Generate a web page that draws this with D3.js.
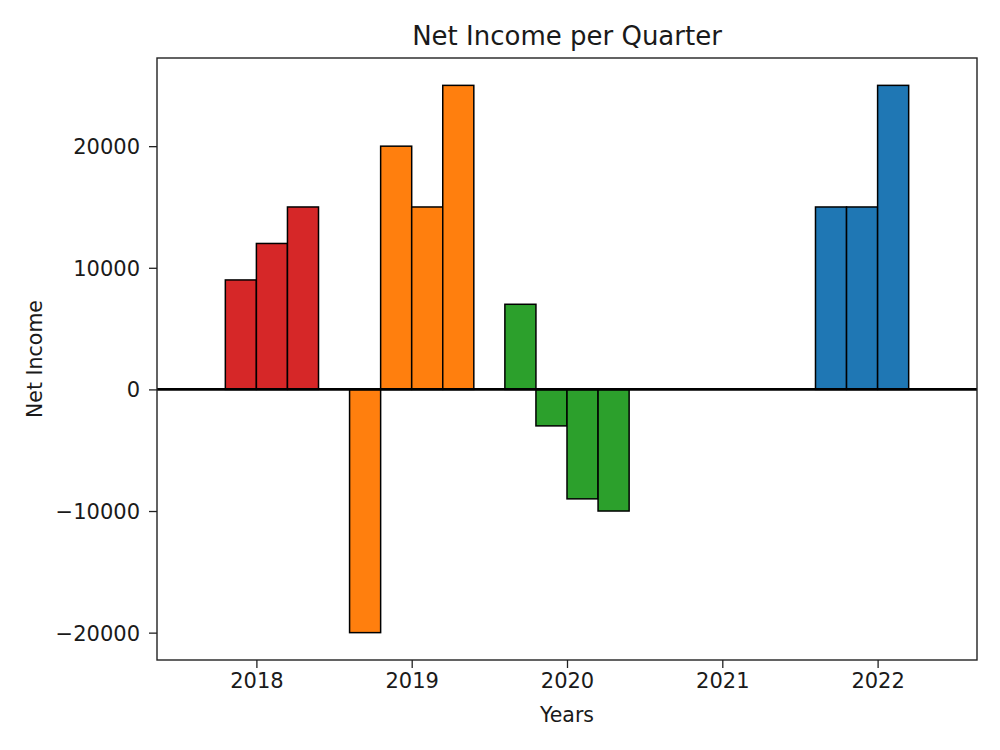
<!DOCTYPE html>
<html>
<head>
<meta charset="utf-8">
<script src="https://cdn.jsdelivr.net/npm/d3@7"></script>
<style>
	body { margin: 0; background: #fff; }
	text { font-family: 'DejaVu Sans', sans-serif; fill: #1a1a1a; }
</style>
</head>
<body>
<svg id="graph"></svg>
<script>
//                       -------------                data ---------- start
let years = [2018, 2019, 2020, 2021, 2022]
let quarterOffsets = [-0.4, -0.2, 0, 0.2]   // left edge of each quarter bar, relative to the year
let income2018 = [0, 9000, 12000, 15000]
let income2019 = [-20000, 20000, 15000, 25000]
let income2020 = [7000, -3000, -9000, -10000]
let income2021 = []
let income2022 = [15000, 15000, 25000, 0]
let yearColors = ['#d62728', '#ff7f0e', '#2ca02c', '#9467bd', '#1f77b4']
let yTicks = [-20000, -10000, 0, 10000, 20000]
//                       -------------                data ---------- end

let Gwidth = 1000
let Gheight = 750
let margin = {top: 58, right: 23, bottom: 90, left: 157}
let barW = 0.2

let incomes = [income2018, income2019, income2020, income2021, income2022]

// one row per bar
let bars = []
years.forEach((y, i) => {
	incomes[i].forEach((v, q) => {
		bars.push({year: y, x0: y + quarterOffsets[q], value: v, color: yearColors[i]})
	})
})

let graph = d3.select('#graph')
	.attr('width', Gwidth)
	.attr('height', Gheight)

// 5% margins like matplotlib
let xMin = d3.min(bars, d => d.x0)
let xMax = d3.max(bars, d => d.x0 + barW)
let xPad = (xMax - xMin) * 0.05
let yMin = d3.min(bars, d => d.value)
let yMax = d3.max(bars, d => d.value)
let yPad = (yMax - yMin) * 0.05

let xScale = d3.scaleLinear()
	.domain([xMin - xPad, xMax + xPad])
	.range([margin.left, Gwidth - margin.right])

let yScale = d3.scaleLinear()
	.domain([yMin - yPad, yMax + yPad])
	.range([Gheight - margin.bottom, margin.top])

// bars
graph.append('g').attr('class', 'bars')
	.selectAll('rect').data(bars)
	.enter()
	.append('rect')
	.attr('x', d => xScale(d.x0))
	.attr('width', d => xScale(d.x0 + barW) - xScale(d.x0))
	.attr('y', d => yScale(Math.max(0, d.value)))
	.attr('height', d => Math.abs(yScale(d.value) - yScale(0)))
	.attr('fill', d => d.color)
	.attr('stroke', '#000')
	.attr('stroke-width', 1.5)

// horizontal line at zero
graph.append('line')
	.attr('x1', xScale.range()[0])
	.attr('x2', xScale.range()[1])
	.attr('y1', yScale(0))
	.attr('y2', yScale(0))
	.attr('stroke', '#000')
	.attr('stroke-width', 2.6)

// axes
let xAxis = d3.axisBottom(xScale)
	.tickValues(years)
	.tickFormat(d3.format('d'))
	.tickSizeInner(8)
	.tickSizeOuter(0)
	.tickPadding(5)

let yAxis = d3.axisLeft(yScale)
	.tickValues(yTicks)
	.tickFormat(d => d < 0 ? '\u2212' + Math.abs(d) : d)
	.tickSizeInner(8)
	.tickSizeOuter(0)
	.tickPadding(9)

let gx = graph.append('g')
	.attr('transform', `translate(0,${Gheight - margin.bottom})`)
	.call(xAxis)

let gy = graph.append('g')
	.attr('transform', `translate(${margin.left},0)`)
	.call(yAxis)

graph.selectAll('.domain').remove()
graph.selectAll('.tick line').attr('stroke', '#222').attr('stroke-width', 1.3)
graph.selectAll('.tick text')
	.attr('font-family', 'DejaVu Sans')
	.attr('font-size', '21px')
	.attr('fill', '#1a1a1a')
gy.selectAll('.tick text').attr('dy', '0.36em')

// frame
graph.append('rect')
	.attr('x', margin.left)
	.attr('y', margin.top)
	.attr('width', Gwidth - margin.left - margin.right)
	.attr('height', Gheight - margin.top - margin.bottom)
	.attr('fill', 'none')
	.attr('stroke', '#222')
	.attr('stroke-width', 1.4)

// labels
let cx = (margin.left + Gwidth - margin.right) / 2
let cy = (margin.top + Gheight - margin.bottom) / 2

graph.append('text')
	.attr('x', cx)
	.attr('y', 45)
	.attr('text-anchor', 'middle')
	.attr('font-size', '26px')
	.text('Net Income per Quarter')

graph.append('text')
	.attr('x', cx)
	.attr('y', 722)
	.attr('text-anchor', 'middle')
	.attr('font-size', '20.5px')
	.text('Years')

graph.append('text')
	.attr('transform', `translate(42,${cy}) rotate(-90)`)
	.attr('text-anchor', 'middle')
	.attr('font-size', '20.5px')
	.text('Net Income')
</script>
</body>
</html>
